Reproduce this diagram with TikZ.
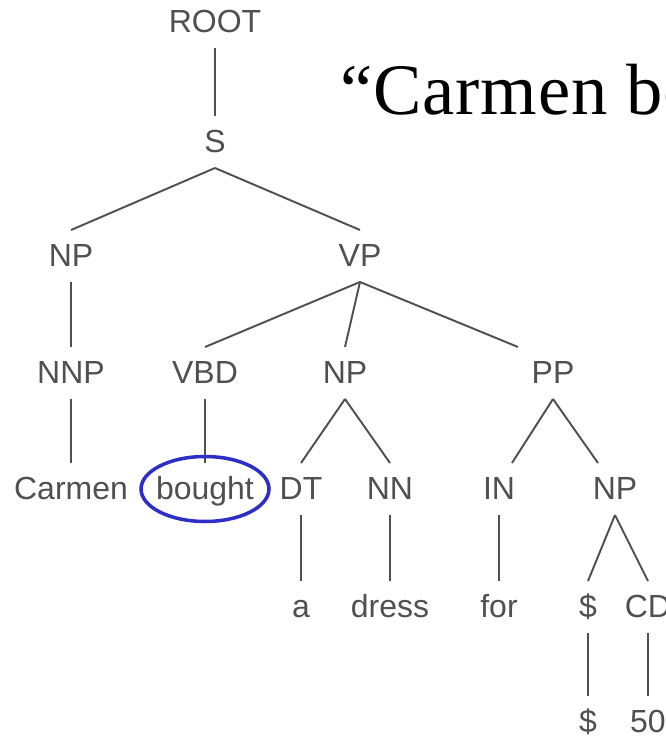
\documentclass[tikz,border=0pt]{standalone}
\usepackage{fontspec}
\usepackage{xcolor}
\usepackage{tikz}
\usetikzlibrary{positioning, shapes}
\newfontfamily\treefont{Liberation Sans}
\newfontfamily\quotefont[LetterSpace=1.2]{Liberation Serif}
\definecolor{treeGray}{RGB}{80,80,80}
\definecolor{ringBlue}{RGB}{45,45,200}
\tikzstyle{treeNode}=[text=treeGray, font=\treefont\fontsize{18.2}{20}\selectfont, text height=12.5pt, text depth=0pt, minimum height=1.04cm, inner sep=0pt, outer sep=0pt]
\tikzstyle{treeEdge}=[draw=treeGray, line width=1.1pt]
\tikzstyle{focusRing}=[draw=ringBlue, line width=2pt]

\begin{document}
\begin{tikzpicture}[x=0.02cm, y=-0.02cm]
    \useasboundingbox (0,0) rectangle (666,741);
    \clip (0,0) rectangle (666,741);
    \fill[white] (0,0) rectangle (666,741);

    \node[treeNode] (root) at (215,22) {ROOT};
    \node[treeNode] (s) at (215,142) {S};
    \node[treeNode] (npSubj) at (71,256) {NP};
    \node[treeNode] (vp) at (360,256) {VP};
    \node[treeNode] (nnp) at (71,373) {NNP};
    \node[treeNode] (vbd) at (205,373) {VBD};
    \node[treeNode] (npObj) at (345,373) {NP};
    \node[treeNode] (pp) at (553,373) {PP};
    \node[treeNode] (wCarmen) at (71,489) {Carmen};
    \node[treeNode] (wBought) at (205,489) {bought};
    \node[treeNode] (dt) at (301,489) {DT};
    \node[treeNode] (nn) at (390,489) {NN};
    \node[treeNode] (prep) at (499,489) {IN};
    \node[treeNode] (npPrice) at (615,489) {NP};
    \node[treeNode] (wA) at (301,607) {a};
    \node[treeNode] (wDress) at (390,607) {dress};
    \node[treeNode] (wFor) at (499,607) {for};
    \node[treeNode] (dollarTag) at (588,607) {\$};
    \node[treeNode] (cd) at (648,607) {CD};
    \node[treeNode] (wDollar) at (588,722) {\$};
    \node[treeNode] (wFifty) at (648,722) {50};

    \node[anchor=base west, inner sep=0pt, font=\quotefont\fontsize{41.3}{44}\selectfont] (sentence) at (340,114) {“Carmen bo};

    \draw[treeEdge] (root) -- (s);
    \draw[treeEdge] (s.south) -- (npSubj.north);
    \draw[treeEdge] (s.south) -- (vp.north);
    \draw[treeEdge] (npSubj) -- (nnp);
    \draw[treeEdge] (vp.south) -- (vbd.north);
    \draw[treeEdge] (vp.south) -- (npObj.north);
    \draw[treeEdge] (vp.south) -- ([xshift=-0.7cm]pp.north);
    \draw[treeEdge] (nnp) -- (wCarmen);
    \draw[treeEdge] (vbd) -- (wBought);
    \draw[treeEdge] (npObj.south) -- (dt.north);
    \draw[treeEdge] (npObj.south) -- (nn.north);
    \draw[treeEdge] (pp.south) -- ([xshift=0.26cm]prep.north);
    \draw[treeEdge] (pp.south) -- ([xshift=-0.34cm]npPrice.north);
    \draw[treeEdge] (dt) -- (wA);
    \draw[treeEdge] (nn) -- (wDress);
    \draw[treeEdge] (prep) -- (wFor);
    \draw[treeEdge] (npPrice.south) -- (dollarTag.north);
    \draw[treeEdge] (npPrice.south) -- (cd.north);
    \draw[treeEdge] (dollarTag) -- (wDollar);
    \draw[treeEdge] (cd) -- (wFifty);

    \draw[focusRing] (wBought.center) ellipse [x radius=1.28cm, y radius=0.65cm];
\end{tikzpicture}
\end{document}
